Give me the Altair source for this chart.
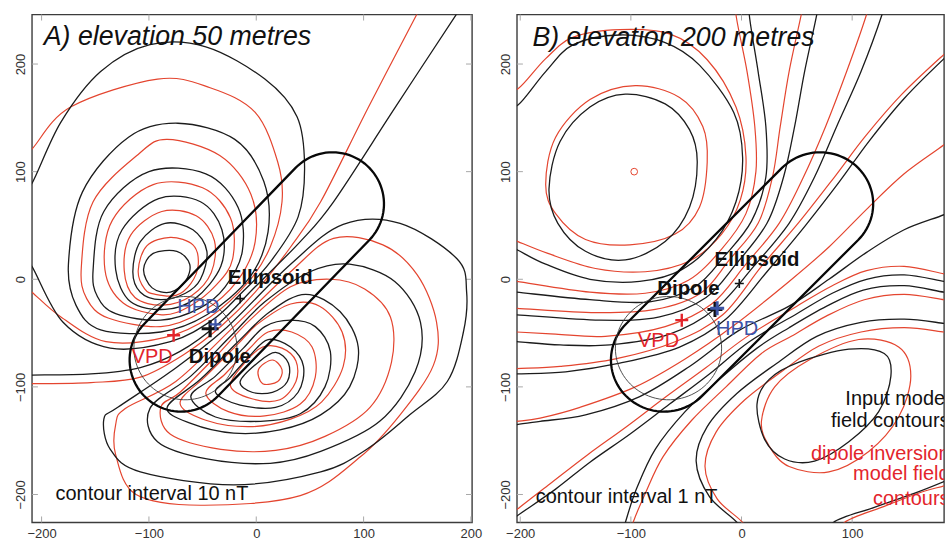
import altair as alt
import pandas as pd
import numpy as np

# ---------------- axis ranges / ticks (metres) ----------------
A_X_RANGE = [-209, 201]
B_X_RANGE = [-203, 183]
Y_RANGE = [-226, 246]
A_X_TICKS = [-200, -100, 0, 100, 200]
B_X_TICKS = [-200, -100, 0, 100]
Y_TICKS = [-200, -100, 0, 100, 200]

# source body outline (ellipsoid in plan: end-cap centres + radius) and dipole sphere
BODY_CAP_CENTRES = [(-70, -75), (71, 70)]
BODY_RADIUS = 48
SPHERE_CENTRE = (-66, -64)
SPHERE_RADIUS = 48

# ---------------- Panel A: elevation 50 m (interval 10 nT) ----------------
A_BLACK_LOOPS = {
    "N1": [(-105, 9), (-96, 24), (-74, 26), (-62, 14), (-66, -2), (-80, -12), (-97, -8)],
    "N2": [(-115, 7), (-108, 35), (-85, 52), (-59, 46), (-46, 26), (-52, 0), (-66, -13), (-89, -19), (-108, -12)],
    "N3": [(-131, 9), (-125, 46), (-91, 75), (-52, 72), (-32, 46), (-33, 12), (-57, -18), (-85, -28), (-117, -21)],
    "N4": [(-152, 9), (-142, 63), (-100, 100), (-47, 98), (-17, 67), (-13, 26), (-29, -7), (-53, -27), (-89, -38), (-131, -32), (-148, -16)],
    "N5": [(-175, 14), (-162, 81), (-119, 132), (-73, 145), (-20, 130), (7, 91), (11, 44), (-6, 2), (-46, -33), (-89, -49), (-145, -47), (-168, -24)],
    "P1": [(-15, -95), (2, -77), (18, -68), (30, -78), (29, -95), (15, -105), (-4, -105)],
    "P2": [(-38, -105), (-15, -117), (18, -119), (39, -105), (44, -81), (32, -63), (11, -56), (-6, -71), (-24, -91)],
    "P3": [(-61, -109), (-38, -128), (4, -132), (41, -125), (64, -100), (69, -67), (55, -44), (32, -38), (8, -44), (-12, -64), (-38, -90)],
    "P4": [(-83, -119), (-61, -134), (-21, -143), (22, -140), (60, -126), (87, -100), (95, -63), (78, -30), (46, -14), (13, -30), (-18, -59), (-52, -93)],
    "P5": [(-99, -120), (-92, -151), (-46, -167), (13, -171), (60, -160), (115, -132), (148, -86), (153, -40), (129, -2), (87, 14), (50, 7), (8, -21), (-24, -53), (-61, -90)],
    "P6": [(-142, -130), (-136, -158), (-108, -179), (-21, -191), (60, -179), (103, -158), (143, -126), (178, -95), (193, -49), (196, -12), (187, 19), (134, 52), (81, 51), (32, 14), (-30, -47), (-80, -86), (-129, -119)],
}
A_BLACK_OPEN = {
    "N6": [(-219, 81), (-209, 89), (-182, 146), (-145, 193), (-99, 218), (-47, 216), (8, 186), (38, 151), (45, 105), (39, 58), (13, 16), (-15, -14), (-41, -38), (-80, -58), (-136, -64), (-180, -40), (-209, 12), (-219, 24)],
    "Z": [(199, 263), (187, 247), (129, 159), (72, 72), (41, 35), (-1, -7), (-35, -41), (-71, -67), (-108, -82), (-154, -88), (-209, -89), (-224, -89)],
}
A_RED_LOOPS = {
    "RN1": [(-110, 8), (-102, 31), (-80, 39), (-59, 32), (-54, 14), (-61, -4), (-75, -15), (-94, -14), (-104, -9)],
    "RN2": [(-123, 8), (-117, 41), (-88, 63), (-56, 59), (-39, 36), (-42, 6), (-60, -15), (-87, -24), (-113, -17)],
    "RN3": [(-141, 9), (-134, 55), (-96, 88), (-50, 85), (-24, 57), (-22, 19), (-37, -5), (-62, -25), (-88, -33), (-124, -22)],
    "RN4": [(-163, 11), (-152, 72), (-110, 116), (-83, 130), (-34, 115), (-5, 79), (-1, 35), (-18, -2), (-50, -30), (-89, -44), (-138, -36), (-158, -18)],
    "RP1": [(2, -84), (15, -75), (24, -84), (20, -95), (6, -97)],
    "RP2": [(-24, -99), (-4, -111), (22, -112), (37, -95), (37, -76), (24, -64), (6, -63), (-11, -78)],
    "RP3": [(-47, -106), (-26, -123), (8, -127), (41, -116), (55, -91), (52, -63), (33, -49), (11, -49), (-7, -65), (-29, -88)],
    "RP4": [(-71, -115), (-47, -131), (-6, -137), (32, -130), (61, -114), (81, -81), (80, -49), (59, -25), (32, -23), (2, -41), (-17, -60), (-47, -90)],
    "RP5": [(-89, -119), (-80, -144), (-33, -158), (18, -159), (64, -146), (106, -119), (126, -77), (125, -35), (101, -9), (69, 0), (32, -7), (-6, -38), (-38, -72), (-71, -105)],
    "RP6": [(-122, -120), (-131, -135), (-131, -163), (-112, -200), (-52, -210), (41, -201), (97, -165), (134, -126), (165, -80), (168, -40), (150, 4), (118, 32), (72, 38), (32, 7), (-24, -47), (-75, -95)],
}
A_RED_OPEN = {
    "RN5": [(-219, 114), (-209, 121), (-173, 160), (-92, 186), (-43, 178), (-1, 155), (20, 109), (24, 72), (13, 30), (-7, -2), (-43, -35), (-85, -54), (-140, -58), (-182, -35), (-209, -12), (-219, -5)],
    "RZ": [(157, 263), (150, 247), (104, 159), (60, 72), (32, 30), (-1, -12), (-32, -43), (-66, -69), (-108, -91), (-154, -96), (-209, -97), (-224, -97)],
}

# ---------------- Panel B: elevation 200 m (interval 1 nT) ----------------
B_BLACK_LOOPS = {
    "BN1": [(-174, 84), (-164, 128), (-137, 160), (-105, 172), (-69, 163), (-47, 139), (-40, 109), (-47, 67), (-69, 35), (-105, 18), (-141, 26), (-166, 52)],
    "BP1": [(14, -116), (25, -93), (52, -77), (97, -65), (129, -69), (135, -90), (124, -123), (97, -151), (66, -169), (39, -167), (21, -149)],
}
B_BLACK_OPEN = {
    "BN2": [(-213, 165), (-202, 162), (-177, 193), (-152, 218), (-110, 227), (-69, 220), (-38, 199), (-7, 155), (1, 113), (-5, 72), (-23, 37), (-54, 9), (-92, -2), (-137, 0), (-177, 14), (-202, 27), (-213, 33)],
    "BN3": [(9, 262), (7, 246), (15, 193), (22, 142), (22, 95), (9, 54), (-15, 22), (-42, -7), (-83, -21), (-137, -19), (-203, -12), (-213, -11)],
    "BN4": [(70, 262), (68, 246), (57, 193), (48, 142), (38, 95), (23, 52), (-5, 14), (-32, -17), (-74, -35), (-128, -38), (-203, -33), (-213, -33)],
    "BN5": [(130, 262), (127, 246), (108, 193), (86, 142), (66, 95), (43, 52), (11, 12), (-23, -27), (-65, -51), (-119, -61), (-164, -61), (-203, -58), (-213, -58)],
    "BN6": [(196, 216), (183, 205), (147, 168), (115, 128), (88, 90), (57, 49), (23, 7), (-14, -37), (-56, -63), (-110, -78), (-159, -86), (-203, -88), (-213, -89)],
    "BN7": [(196, 67), (183, 60), (147, 46), (113, 25), (79, 0), (43, -25), (-3, -48), (-47, -81), (-92, -109), (-141, -126), (-182, -132), (-203, -135), (-213, -136)],
    "BN8": [(196, -4), (183, -2), (147, 4), (113, 0), (82, -13), (50, -32), (7, -58), (-29, -88), (-65, -116), (-101, -144), (-137, -170), (-168, -195), (-203, -220), (-218, -232)],
    "BP3": [(196, -13), (183, -12), (147, -6), (110, -10), (77, -25), (43, -45), (14, -64), (-20, -93), (-51, -123), (-78, -158), (-95, -195), (-105, -226), (-110, -244)],
    "BP2a": [(196, -43), (183, -41), (147, -37), (108, -40), (68, -53), (32, -78), (-4, -106), (-31, -137), (-41, -169), (-29, -202), (-4, -226), (7, -244)],
    "BP2b": [(79, -244), (83, -226), (120, -212), (156, -199), (183, -188), (196, -182)],
}
B_RED_LOOPS = {
    "RN1": [(-177, 88), (-168, 132), (-137, 167), (-96, 180), (-56, 169), (-35, 142), (-31, 109), (-38, 67), (-60, 42), (-101, 32), (-141, 37), (-168, 61)],
    "RP1": [(18, -132), (30, -100), (61, -75), (106, -56), (142, -63), (153, -90), (142, -128), (115, -160), (79, -179), (43, -174), (25, -155)],
}
B_RED_OPEN = {
    "RN2": [(-213, 180), (-202, 177), (-177, 205), (-152, 225), (-110, 232), (-65, 228), (-31, 204), (-5, 160), (4, 114), (-1, 74), (-18, 42), (-47, 17), (-87, 7), (-132, 10), (-175, 24), (-202, 35), (-213, 40)],
    "RN3": [(-3, 262), (-5, 246), (5, 193), (12, 142), (13, 100), (4, 61), (-18, 28), (-48, -1), (-87, -13), (-137, -12), (-203, -2), (-213, -1)],
    "RN4": [(57, 262), (54, 246), (43, 193), (35, 142), (28, 95), (15, 52), (-11, 18), (-37, -13), (-78, -28), (-132, -31), (-203, -27), (-213, -27)],
    "RN5": [(116, 262), (113, 246), (95, 193), (76, 142), (56, 95), (34, 52), (4, 14), (-27, -23), (-69, -44), (-123, -53), (-168, -51), (-203, -49), (-213, -49)],
    "RN6": [(196, 220), (183, 209), (145, 172), (112, 133), (84, 95), (52, 53), (18, 12), (-17, -33), (-60, -58), (-114, -74), (-164, -81), (-203, -83), (-213, -84)],
    "RN7": [(196, 137), (183, 125), (147, 98), (113, 65), (79, 30), (43, -2), (-7, -43), (-51, -74), (-96, -100), (-146, -119), (-182, -129), (-203, -132), (-213, -133)],
    "RN8": [(196, 3), (183, 5), (147, 12), (113, 8), (82, -6), (50, -25), (4, -54), (-32, -82), (-68, -109), (-104, -137), (-139, -163), (-173, -190), (-203, -214), (-218, -227)],
    "RP3": [(196, -21), (183, -19), (147, -14), (111, -19), (77, -34), (45, -53), (18, -69), (-14, -100), (-45, -131), (-71, -165), (-87, -199), (-98, -226), (-103, -244)],
    "RP2a": [(196, -51), (183, -49), (147, -45), (108, -49), (70, -62), (36, -86), (3, -112), (-23, -142), (-33, -174), (-22, -204), (1, -226), (12, -244)],
    "RP2b": [(88, -244), (93, -226), (129, -211), (165, -197), (183, -192), (196, -186)],
}

# ---------------- markers & labels ----------------
# (x, y, colour, symbol width px, stroke px)
A_MARKERS = [(-77, -52, "#e3242b", 13, 2.4), (-43, -46, "#111111", 17, 3.2),
             (-38, -42, "#3d55a8", 12, 2.2), (-15, -18, "#111111", 9, 1.6)]
B_MARKERS = [(-54, -38, "#e3242b", 13, 2.4), (-24, -28, "#111111", 15, 3.0),
             (-22, -27, "#3d55a8", 14, 3.0), (-2, -4, "#111111", 9, 1.6)]
B_POLE = [(-97, 100)]

A_TITLE = [(-198, 225, "A) elevation 50 metres")]
B_TITLE = [(-189, 224, "B) elevation 200 metres")]
A_NOTE = [(-187, -200, "contour interval 10 nT")]
B_NOTE = [(-186, -202, "contour interval 1 nT")]
A_BOLD = [(13, 1, "Ellipsoid"), (-34, -72, "Dipole")]
B_BOLD = [(14, 18, "Ellipsoid"), (-48, -9, "Dipole")]
A_COLOURED = [(-54, -26, "HPD", "#3d55a8"), (-97, -72, "VPD", "#e3242b")]
B_COLOURED = [(-4, -46, "HPD", "#3d55a8"), (-75, -57, "VPD", "#e3242b")]
B_LEGEND = [(188, -111, "Input model", "#111111"), (188, -132, "field contours", "#111111"),
            (188, -162, "dipole inversion", "#e3242b"), (188, -181, "model field", "#e3242b"),
            (188, -204, "contours", "#e3242b")]

BLACK = "#1c1c1c"
RED = "#e4452f"
TICK = "#a8a8a8"
FONT = "Liberation Sans"
PLUS = "M-1,0L1,0M0,-1L0,1"
PANEL_H = 509


def curves_df(d):
    rows = []
    for k, pts in d.items():
        for i, (x, y) in enumerate(pts):
            rows.append({"cid": k, "i": i, "x": x, "y": y})
    return pd.DataFrame(rows)


def stadium_df(c1, c2, r, n=48):
    (x1, y1), (x2, y2) = c1, c2
    th = np.arctan2(y2 - y1, x2 - x1)
    a2 = np.linspace(th - np.pi / 2, th + np.pi / 2, n)
    a1 = np.linspace(th + np.pi / 2, th + 3 * np.pi / 2, n)
    xs = np.concatenate([x2 + r * np.cos(a2), x1 + r * np.cos(a1)])
    ys = np.concatenate([y2 + r * np.sin(a2), y1 + r * np.sin(a1)])
    return pd.DataFrame({"x": xs, "y": ys, "i": np.arange(len(xs)), "cid": "body"})


def circle_df(c, r, n=90):
    a = np.linspace(0, 2 * np.pi, n, endpoint=False)
    return pd.DataFrame({"x": c[0] + r * np.cos(a), "y": c[1] + r * np.sin(a),
                         "i": np.arange(n), "cid": "sphere"})


def panel(xr, xticks, width, bl, bo, rl, ro, markers, title, note, bold, coloured,
          legend=None, pole=None, right_ticks=True):
    xs = alt.Scale(domain=xr, nice=False, zero=False)
    ys = alt.Scale(domain=Y_RANGE, nice=False, zero=False)
    xaxis = alt.Axis(values=xticks, domain=False, ticks=False, grid=False,
                     labelFlush=False, labelPadding=5, labelFontSize=13,
                     labelColor="#333333", labelFont=FONT, title=None)
    yaxis = alt.Axis(values=Y_TICKS, domain=False, ticks=False, grid=False,
                     labelAngle=270, labelAlign="center", labelBaseline="bottom",
                     labelPadding=4, labelFontSize=13, labelColor="#333333",
                     labelFont=FONT, labelFlush=False, title=None)
    X = alt.X("x:Q", scale=xs, axis=xaxis, title=None)
    Y = alt.Y("y:Q", scale=ys, axis=yaxis, title=None)

    def lines(d, color, w, interp):
        return alt.Chart(curves_df(d)).mark_line(
            color=color, strokeWidth=w, interpolate=interp, clip=True
        ).encode(x=X, y=Y, detail="cid:N", order="i:Q")

    # small inward tick marks on the frame
    tx = pd.DataFrame({"x": xticks})
    ty = pd.DataFrame({"y": Y_TICKS})
    tick = dict(color=TICK, strokeWidth=1)
    layers = [
        alt.Chart(tx).mark_rule(**tick).encode(x=X, y=alt.value(PANEL_H), y2=alt.value(PANEL_H - 6)),
        alt.Chart(tx).mark_rule(**tick).encode(x=X, y=alt.value(0), y2=alt.value(6)),
        alt.Chart(ty).mark_rule(**tick).encode(y=Y, x=alt.value(0), x2=alt.value(6)),
    ]
    if right_ticks:
        layers.append(alt.Chart(ty).mark_rule(**tick).encode(
            y=Y, x=alt.value(width), x2=alt.value(width - 6)))

    layers += [lines(rl, RED, 1.2, "cardinal-closed"),
               lines(ro, RED, 1.2, "cardinal"),
               lines(bl, BLACK, 1.3, "cardinal-closed"),
               lines(bo, BLACK, 1.3, "cardinal")]

    layers.append(alt.Chart(stadium_df(BODY_CAP_CENTRES[0], BODY_CAP_CENTRES[1], BODY_RADIUS))
                  .mark_line(color="#080808", strokeWidth=2.3, interpolate="linear-closed", clip=True)
                  .encode(x=X, y=Y, order="i:Q"))
    layers.append(alt.Chart(circle_df(SPHERE_CENTRE, SPHERE_RADIUS))
                  .mark_line(color="#3a3a3a", strokeWidth=0.9, interpolate="linear-closed", clip=True)
                  .encode(x=X, y=Y, order="i:Q"))

    mdf = pd.DataFrame(markers, columns=["x", "y", "c", "w", "sw"])
    mdf["size"] = mdf["w"] ** 2
    layers.append(alt.Chart(mdf).mark_point(shape=PLUS, filled=False, opacity=1, clip=True).encode(
        x=X, y=Y, color=alt.Color("c:N", scale=None),
        size=alt.Size("size:Q", scale=None), strokeWidth=alt.StrokeWidth("sw:Q", scale=None)))

    if pole:
        layers.append(alt.Chart(pd.DataFrame(pole, columns=["x", "y"])).mark_point(
            shape="circle", filled=False, color=RED, size=45, strokeWidth=1, opacity=1,
            clip=True).encode(x=X, y=Y))

    layers.append(alt.Chart(pd.DataFrame(title, columns=["x", "y", "t"])).mark_text(
        align="left", baseline="middle", fontStyle="italic", fontSize=26.8, font=FONT,
        color="#111111", clip=True).encode(x=X, y=Y, text="t:N"))
    layers.append(alt.Chart(pd.DataFrame(note, columns=["x", "y", "t"])).mark_text(
        align="left", baseline="middle", fontSize=20, font=FONT,
        color="#111111", clip=True).encode(x=X, y=Y, text="t:N"))
    layers.append(alt.Chart(pd.DataFrame(bold, columns=["x", "y", "t"])).mark_text(
        align="center", baseline="middle", fontSize=20.4, fontWeight="bold", font=FONT,
        color="#111111", clip=True).encode(x=X, y=Y, text="t:N"))
    layers.append(alt.Chart(pd.DataFrame(coloured, columns=["x", "y", "t", "c"])).mark_text(
        align="center", baseline="middle", fontSize=20, font=FONT, clip=True).encode(
        x=X, y=Y, text="t:N", color=alt.Color("c:N", scale=None)))
    if legend:
        layers.append(alt.Chart(pd.DataFrame(legend, columns=["x", "y", "t", "c"])).mark_text(
            align="right", baseline="middle", fontSize=20, font=FONT, clip=True).encode(
            x=X, y=Y, text="t:N", color=alt.Color("c:N", scale=None)))

    return alt.layer(*layers).properties(width=width, height=PANEL_H)


panel_a = panel(A_X_RANGE, A_X_TICKS, 441, A_BLACK_LOOPS, A_BLACK_OPEN, A_RED_LOOPS, A_RED_OPEN,
                A_MARKERS, A_TITLE, A_NOTE, A_BOLD, A_COLOURED)
panel_b = panel(B_X_RANGE, B_X_TICKS, 428, B_BLACK_LOOPS, B_BLACK_OPEN, B_RED_LOOPS, B_RED_OPEN,
                B_MARKERS, B_TITLE, B_NOTE, B_BOLD, B_COLOURED, legend=B_LEGEND, pole=B_POLE,
                right_ticks=False)

chart = alt.hconcat(panel_a, panel_b, spacing=45, bounds="flush").properties(
    padding={"left": 14, "top": 12, "right": 0, "bottom": 0},
    background="white",
).configure_view(stroke="#3c3c3c", strokeWidth=1.4)

chart.save("out.html", embed_options={"renderer": "svg", "actions": False})
